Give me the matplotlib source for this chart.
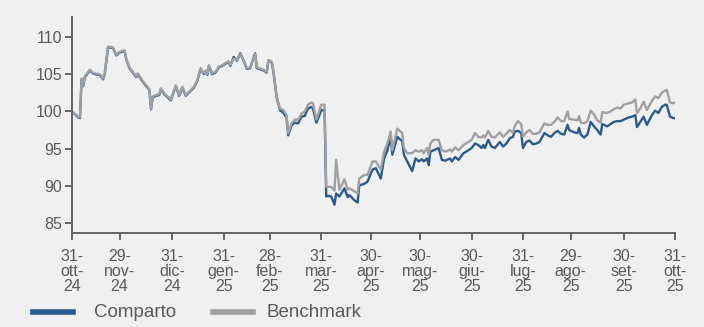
import pandas as pd
import numpy as np
import matplotlib
matplotlib.use("Agg")
import matplotlib.pyplot as plt
from matplotlib.lines import Line2D

plt.rcParams['font.family'] = ['Liberation Sans', 'DejaVu Sans']

# days since 31-ott-24
days = [0, 4, 5, 6, 7, 8, 11, 13, 14, 17, 19, 20, 22, 25, 27, 29, 32, 33, 35, 37,
        39, 40, 42, 44, 47, 48, 49, 51, 53, 54, 56, 60, 63, 65, 67, 69, 74, 76, 78, 80,
        81, 82, 83, 85, 87, 89, 91, 93, 95, 96, 98, 100, 102, 104, 106, 108, 111, 112, 116, 118,
        119, 121, 122, 124, 126, 128, 130, 131, 133, 135, 137, 139, 141, 143, 145, 146, 148, 149, 151, 153,
        154, 155, 157, 159, 160, 162, 165, 167, 168, 171, 173, 174, 177, 179, 182, 184, 187, 189, 191, 193,
        194, 197, 200, 201, 203, 206, 208, 210, 212, 213, 215, 216, 217, 219, 222, 224, 226, 229, 230, 232,
        234, 237, 240, 242, 244, 246, 248, 249, 250, 252, 254, 256, 259, 261, 263, 265, 267, 268, 270, 272,
        273, 275, 277, 279, 281, 283, 286, 288, 290, 292, 294, 296, 298, 300, 301, 304, 306, 307, 308, 310,
        312, 314, 316, 318, 320, 321, 324, 326, 328, 330, 332, 334, 337, 339, 341, 342, 344, 346, 348, 351,
        353, 355, 357, 359, 360, 362, 364, 365]

benchmark = [100.0, 99.3, 99.2, 104.4, 103.5, 104.7, 105.6, 105.2, 105.1, 105.0, 104.4, 105.1, 108.7, 108.6, 107.6, 108.0, 108.2, 107.1, 105.9, 105.3,
             104.7, 105.1, 104.4, 103.8, 103.0, 100.4, 102.0, 102.2, 102.3, 103.1, 102.4, 101.6, 103.5, 102.2, 103.3, 102.2, 103.3, 104.2, 105.8, 105.1,
             105.5, 105.0, 106.2, 105.1, 105.3, 106.0, 106.2, 106.5, 106.7, 106.2, 107.1, 106.9, 107.7, 106.9, 105.8, 105.9, 107.7, 105.9, 105.6, 105.3,
             106.9, 106.7, 105.5, 102.0, 100.4, 100.2, 99.5, 97.1, 98.4, 98.9, 98.9, 99.7, 100.0, 100.9, 101.2, 101.1, 98.9, 99.5, 100.9, 100.9,
             89.9, 89.9, 89.9, 89.4, 93.5, 89.5, 90.9, 89.5, 89.7, 89.3, 89.0, 91.0, 91.5, 91.5, 93.3, 93.3, 92.2, 94.6, 95.7, 97.3,
             94.8, 97.7, 97.1, 95.1, 94.4, 94.4, 94.8, 94.6, 94.8, 94.4, 95.1, 94.2, 95.7, 96.2, 96.2, 94.8, 94.6, 94.9, 94.6, 95.2,
             94.8, 95.5, 95.9, 96.2, 97.1, 96.6, 96.5, 96.8, 96.5, 97.4, 96.6, 96.5, 97.2, 96.6, 97.0, 97.5, 97.2, 98.0, 98.7, 98.3,
             96.6, 97.2, 97.5, 97.0, 97.0, 97.2, 98.4, 98.2, 98.2, 98.6, 99.2, 98.7, 98.7, 100.0, 99.0, 98.9, 98.8, 99.4, 98.5, 98.4,
             98.7, 100.1, 99.6, 98.8, 98.5, 99.9, 99.8, 100.0, 100.3, 100.5, 100.4, 100.9, 101.1, 101.2, 101.6, 99.8, 100.4, 101.3, 100.2, 101.4,
             102.0, 101.8, 102.5, 102.8, 102.9, 101.2, 101.1, 101.2]

comparto = [100.0, 99.2, 99.1, 104.3, 103.4, 104.6, 105.5, 105.1, 105.0, 104.9, 104.3, 105.0, 108.6, 108.5, 107.5, 107.9, 108.1, 107.0, 105.8, 105.2,
            104.6, 105.0, 104.3, 103.7, 102.9, 100.3, 101.9, 102.1, 102.2, 103.0, 102.3, 101.5, 103.4, 102.1, 103.2, 102.1, 103.2, 104.1, 105.7, 105.0,
            105.4, 104.9, 106.1, 105.0, 105.2, 105.9, 106.1, 106.4, 106.6, 106.1, 107.3, 106.8, 107.8, 106.8, 105.7, 105.8, 107.8, 105.8, 105.5, 105.2,
            106.8, 106.6, 105.4, 101.9, 100.2, 99.8, 99.2, 96.8, 98.1, 98.5, 98.4, 99.3, 99.4, 100.4, 100.6, 100.4, 98.5, 99.0, 100.2, 100.1,
            88.6, 88.7, 88.6, 87.5, 89.0, 88.6, 89.7, 88.5, 88.8, 88.1, 87.8, 90.1, 90.3, 90.6, 92.2, 92.4, 91.0, 93.7, 94.8, 96.6,
            94.2, 96.6, 96.0, 94.2, 93.3, 92.0, 93.7, 93.3, 93.6, 93.3, 93.7, 92.8, 94.6, 94.8, 95.1, 93.5, 93.4, 93.7, 93.3, 93.9,
            93.5, 94.4, 94.8, 95.1, 95.7, 95.5, 95.1, 95.5, 95.1, 96.2, 95.3, 95.1, 95.9, 95.3, 95.7, 96.4, 96.6, 97.3, 97.4, 97.1,
            95.1, 95.9, 96.1, 95.6, 95.7, 95.9, 97.1, 96.8, 96.6, 97.1, 97.4, 97.0, 96.9, 98.2, 97.5, 97.2, 97.1, 97.8, 96.9, 96.5,
            96.9, 98.6, 98.0, 97.5, 96.9, 98.3, 98.0, 98.3, 98.6, 98.7, 98.7, 98.9, 99.2, 99.3, 99.5, 97.9, 98.6, 99.3, 98.2, 99.5,
            100.1, 99.8, 100.6, 100.9, 100.9, 99.3, 99.1, 99.1]

tick_dates = ['2024-10-31', '2024-11-29', '2024-12-31', '2025-01-31', '2025-02-28', '2025-03-31', '2025-04-30',
              '2025-05-30', '2025-06-30', '2025-07-31', '2025-08-29', '2025-09-30', '2025-10-31']
tick_labels = ['31-\nott-\n24', '29-\nnov-\n24', '31-\ndic-\n24', '31-\ngen-\n25', '28-\nfeb-\n25', '31-\nmar-\n25',
               '30-\napr-\n25', '30-\nmag-\n25', '30-\ngiu-\n25', '31-\nlug-\n25', '29-\nago-\n25', '30-\nset-\n25',
               '31-\nott-\n25']
y_ticks = [85, 90, 95, 100, 105, 110]

start = pd.Timestamp('2024-10-31')
dates = start + pd.to_timedelta(days, unit='D')

bg = '#f0f0f0'
txt = '#595959'
blue = '#2b5a8e'
grey = '#a0a0a0'

fig = plt.figure(figsize=(7.04, 3.27), dpi=100, facecolor=bg)
ax = fig.add_axes([0.1018, 0.2884, 0.8570, 0.6606], facecolor=bg)

ax.plot(dates, comparto, color=blue, lw=1.7, solid_joinstyle='round')
ax.plot(dates, benchmark, color=grey, lw=1.7, solid_joinstyle='round')

ax.set_xlim(start, pd.Timestamp('2025-10-31'))
ax.set_ylim(83.75, 112.7)
ax.set_yticks(y_ticks)
ax.set_xticks(pd.to_datetime(tick_dates))
ax.set_xticklabels(tick_labels, linespacing=1.0)

for s in ['top', 'right']:
    ax.spines[s].set_visible(False)
for s in ['left', 'bottom']:
    ax.spines[s].set_color('#666666')
    ax.spines[s].set_linewidth(1.4)
ax.tick_params(axis='both', colors='#666666', width=1.4, length=5, labelsize=11.5, labelcolor=txt)
ax.tick_params(axis='x', pad=7)
ax.tick_params(axis='y', pad=2)

# legend drawn by hand below the axes
fig.add_artist(Line2D([0.047, 0.104], [0.047, 0.047], color=blue, lw=4, transform=fig.transFigure))
fig.text(0.134, 0.043, 'Comparto', fontsize=13.5, color=txt, va='center')
fig.add_artist(Line2D([0.3026, 0.3594], [0.047, 0.047], color=grey, lw=4, transform=fig.transFigure))
fig.text(0.379, 0.043, 'Benchmark', fontsize=13.5, color=txt, va='center')

fig.savefig('out.png', dpi=100, facecolor=bg)
